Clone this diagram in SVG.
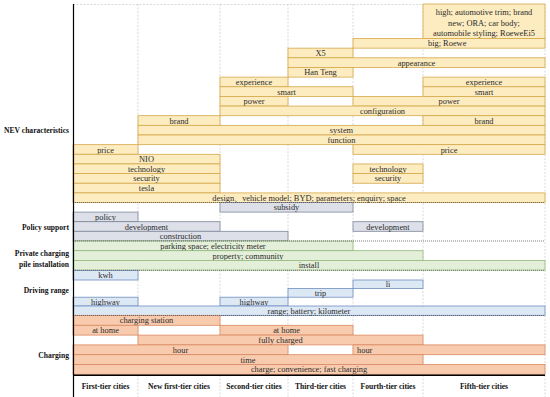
<svg xmlns="http://www.w3.org/2000/svg" width="550" height="397" viewBox="0 0 550 397">
<style>
text{font-family:"Liberation Serif","Times New Roman",serif;font-size:8.4px;fill:#2b2b2b;text-anchor:middle}
.lab{font-weight:bold;font-size:7.6px;fill:#111;text-anchor:end}
.col{font-weight:bold;font-size:7.6px;fill:#111}
.l{text-anchor:start}
.nev rect{fill:#fcecc0;stroke:#d6a84a;stroke-width:0.8}
.pol rect{fill:#dde0e9;stroke:#7f8799;stroke-width:0.8}
.pri rect{fill:#e3efd9;stroke:#93b87c;stroke-width:0.8}
.drv rect{fill:#dde8f5;stroke:#6f8ec0;stroke-width:0.8}
.chg rect{fill:#f8cbae;stroke:#d98a62;stroke-width:0.8}
.grid{stroke:#c8c8c8;stroke-width:0.7;stroke-dasharray:2 1.5;fill:none}
.sep{stroke:#555;stroke-width:0.8;stroke-dasharray:1 1;fill:none}
</style>
<rect width="550" height="397" fill="#fff"/>
<g id="grid">
<line class="grid" x1="73" y1="4.5" x2="545" y2="4.5"/>
<line class="grid" x1="138" y1="4" x2="138" y2="397"/>
<line class="grid" x1="220" y1="4" x2="220" y2="397"/>
<line class="grid" x1="288" y1="4" x2="288" y2="397"/>
<line class="grid" x1="353" y1="4" x2="353" y2="397"/>
<line class="grid" x1="423" y1="4" x2="423" y2="397"/>
<line class="grid" x1="545" y1="4" x2="545" y2="397"/>
</g>
<g id="nev" class="nev">
<g id="n-top"><rect x="423" y="4" width="122" height="34.5"/><text x="484" y="15">high; automotive trim; brand</text><text x="484" y="25.5">new; ORA; car body;</text><text x="484" y="36">automobile styling; RoeweEi5</text></g>
<g id="n-big"><rect x="353" y="38.5" width="192" height="9.65"/><text class="l" x="428" y="46.3">big; Roewe</text></g>
<g id="n-x5"><rect x="288" y="48.15" width="65" height="9.65"/><text x="320.5" y="56">X5</text></g>
<g id="n-app"><rect x="288" y="57.8" width="257" height="9.65"/><text x="416.5" y="65.6">appearance</text></g>
<g id="n-han"><rect x="288" y="67.45" width="65" height="9.65"/><text x="320.5" y="75.3">Han Teng</text></g>
<g id="n-exp1"><rect x="220" y="77.1" width="68" height="9.65"/><text x="254" y="84.9">experience</text></g>
<g id="n-exp2"><rect x="423" y="77.1" width="122" height="9.65"/><text x="484" y="84.9">experience</text></g>
<g id="n-smart1"><rect x="220" y="86.75" width="133" height="9.65"/><text x="286.5" y="94.6">smart</text></g>
<g id="n-smart2"><rect x="423" y="86.75" width="122" height="9.65"/><text x="484" y="94.6">smart</text></g>
<g id="n-pow1"><rect x="220" y="96.4" width="68" height="9.65"/><text x="254" y="104.2">power</text></g>
<g id="n-pow2"><rect x="353" y="96.4" width="192" height="9.65"/><text x="449" y="104.2">power</text></g>
<g id="n-conf"><rect x="220" y="106.05" width="325" height="9.65"/><text x="382.5" y="113.9">configuration</text></g>
<g id="n-brand1"><rect x="138" y="115.7" width="82" height="9.65"/><text x="179" y="123.5">brand</text></g>
<g id="n-brand2"><rect x="423" y="115.7" width="122" height="9.65"/><text x="484" y="123.5">brand</text></g>
<g id="n-sys"><rect x="138" y="125.35" width="407" height="9.65"/><text x="341.5" y="133.2">system</text></g>
<g id="n-fun"><rect x="138" y="135" width="407" height="9.65"/><text x="341.5" y="142.8">function</text></g>
<g id="n-price1"><rect x="73" y="144.65" width="65" height="9.65"/><text x="105.5" y="152.5">price</text></g>
<g id="n-price2"><rect x="353" y="144.65" width="192" height="9.65"/><text x="449" y="152.5">price</text></g>
<g id="n-nio"><rect x="73" y="154.3" width="147" height="9.65"/><text x="146.5" y="162.1">NIO</text></g>
<g id="n-tech1"><rect x="73" y="163.95" width="147" height="9.65"/><text x="146.5" y="171.8">technology</text></g>
<g id="n-tech2"><rect x="353" y="163.95" width="70" height="9.65"/><text x="388" y="171.8">technology</text></g>
<g id="n-sec1"><rect x="73" y="173.6" width="147" height="9.65"/><text x="146.5" y="181.4">security</text></g>
<g id="n-sec2"><rect x="353" y="173.6" width="70" height="9.65"/><text x="388" y="181.4">security</text></g>
<g id="n-tesla"><rect x="73" y="183.25" width="147" height="9.65"/><text x="146.5" y="191.1">tesla</text></g>
<g id="n-design"><rect x="73" y="192.9" width="472" height="9.65"/><text x="309" y="200.7">design、vehicle model; BYD; parameters; enquiry; space</text></g>
</g>
<g id="policy" class="pol">
<g id="p-sub"><rect x="220" y="202.5" width="133" height="9.6"/><text x="286.5" y="210.3">subsidy</text></g>
<g id="p-pol"><rect x="73" y="212.1" width="65" height="9.6"/><text x="105.5" y="219.9">policy</text></g>
<g id="p-dev1"><rect x="73" y="221.7" width="147" height="9.6"/><text x="146.5" y="229.5">development</text></g>
<g id="p-dev2"><rect x="353" y="221.7" width="70" height="9.6"/><text x="388" y="229.5">development</text></g>
<g id="p-con"><rect x="73" y="231.3" width="215" height="9.6"/><text x="180.5" y="239.1">construction</text></g>
</g>
<g id="private" class="pri">
<g id="q-park"><rect x="73" y="241" width="280" height="9.7"/><text x="213" y="248.9">parking space; electricity meter</text></g>
<g id="q-prop"><rect x="73" y="250.7" width="350" height="9.7"/><text x="248" y="258.6">property; community</text></g>
<g id="q-inst"><rect x="73" y="260.4" width="472" height="9.7"/><text x="309" y="268.3">install</text></g>
</g>
<g id="driving" class="drv">
<g id="d-kwh"><rect x="73" y="270.5" width="65" height="9.5"/><text x="105.5" y="278.2">kwh</text></g>
<g id="d-li"><rect x="353" y="280" width="70" height="8.5"/><text x="388" y="287.2">li</text></g>
<g id="d-trip"><rect x="288" y="288.5" width="65" height="8.7"/><text x="320.5" y="295.8">trip</text></g>
<g id="d-hw1"><rect x="73" y="297.2" width="65" height="8.8"/><text x="105.5" y="304.6">highway</text></g>
<g id="d-hw2"><rect x="220" y="297.2" width="68" height="8.8"/><text x="254" y="304.6">highway</text></g>
<g id="d-range"><rect x="73" y="306" width="472" height="9.4"/><text x="309" y="313.7">range; battery; kilometer</text></g>
</g>
<g id="charging" class="chg">
<g id="c-st"><rect x="73" y="315.5" width="147" height="9.8"/><text x="146.5" y="323.4">charging station</text></g>
<g id="c-home1"><rect x="73" y="325.3" width="65" height="9.8"/><text x="105.5" y="333.2">at home</text></g>
<g id="c-home2"><rect x="220" y="325.3" width="133" height="9.8"/><text x="286.5" y="333.2">at home</text></g>
<g id="c-full"><rect x="138" y="335.1" width="285" height="9.8"/><text x="280.5" y="343">fully charged</text></g>
<g id="c-hour1"><rect x="73" y="344.9" width="215" height="9.8"/><text x="180.5" y="352.8">hour</text></g>
<g id="c-hour2"><rect x="353" y="344.9" width="192" height="9.8"/><text class="l" x="357" y="352.8">hour</text></g>
<g id="c-time"><rect x="73" y="354.7" width="350" height="9.8"/><text x="248" y="362.6">time</text></g>
<g id="c-charge"><rect x="73" y="364.5" width="472" height="9.8"/><text x="309" y="372.4">charge; convenience; fast charging</text></g>
</g>
<g id="separators">
<line class="sep" x1="73" y1="202.5" x2="545" y2="202.5"/>
<line class="sep" x1="73" y1="241" x2="545" y2="241"/>
<line class="sep" x1="73" y1="270.3" x2="545" y2="270.3"/>
<line class="sep" x1="73" y1="315.4" x2="545" y2="315.4"/>
</g>
<g id="axes">
<line x1="73.5" y1="4" x2="73.5" y2="397" stroke="#000" stroke-width="1.2"/>
<line x1="73" y1="375.2" x2="545" y2="375.2" stroke="#000" stroke-width="1.6"/>
</g>
<g id="row-labels">
<text class="lab" x="69" y="133">NEV characteristics</text>
<text class="lab" x="69" y="230">Policy support</text>
<text class="lab" x="69" y="255.5">Private charging</text>
<text class="lab" x="69" y="266.5">pile installation</text>
<text class="lab" x="69" y="293">Driving range</text>
<text class="lab" x="69" y="358">Charging</text>
</g>
<g id="col-labels">
<text class="col" x="105.5" y="389">First-tier cities</text>
<text class="col" x="179" y="389">New first-tier cities</text>
<text class="col" x="254" y="389">Second-tier cities</text>
<text class="col" x="320.5" y="389">Third-tier cities</text>
<text class="col" x="388" y="389">Fourth-tier cities</text>
<text class="col" x="484" y="389">Fifth-tier cities</text>
</g>
</svg>
